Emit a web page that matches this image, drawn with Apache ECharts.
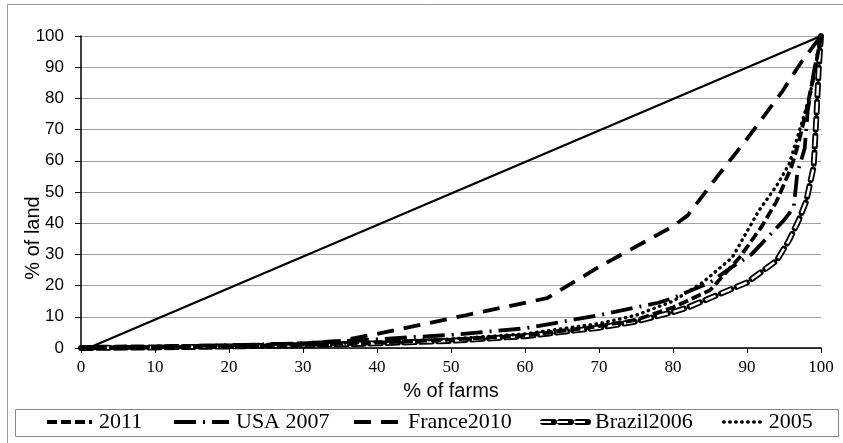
<!DOCTYPE html>
<html><head><meta charset="utf-8">
<script src="https://cdn.jsdelivr.net/npm/echarts@6/dist/echarts.min.js"></script>
<style>html,body{margin:0;padding:0;background:#fff}#c{width:843px;height:443px}</style>
</head><body><div id="c"></div>
<script>
// % of farms (x) and % of land (y) per series
const equalityX = [1, 100];
const equalityY = [0, 100];

const s2011X = [0,10,20,30,40,50,60,70,75,80,85,89,92,94,96,97,98,99,100];
const s2011Y = [0,0.2,0.5,1,1.7,2.7,4,7,9,13,18.5,29,39,47,58,66,76,87,100];

const usaX = [0,10,20,30,40,50,60,70,78,80,85,88,90.6,93.4,95,96.3,96.8,97.8,98.2,99,100];
const usaY = [0,0.4,0.9,1.5,2.8,4.2,6.3,10.5,14.5,16,21,26,30,37,41,45,56,64,76,88,100];

const franceX = [0,10,20,30,35,40,45,52,63,70,80,82,86,90,94.7,97.3,100];
const franceY = [0,0.3,0.8,1.5,2.3,4.5,7,10.5,16,26,39,42.5,55,67,82,91.5,100];

const brazilX = [0,10,20,30,40,50,60,63,70,75,80,82,85,90,94,95.7,97,98,99,99.4,99.7,100];
const brazilY = [0,0.2,0.5,0.9,1.5,2.3,3.8,4.6,6.5,8.5,11.5,13,16,21,28,34.6,41,47,58,75,90,100];

const s2005X = [0,10,20,30,40,50,60,70,75,80,84,88,91.6,94,95.7,97.4,98.4,99,100];
const s2005Y = [0,0.3,0.6,1.1,1.9,2.9,4.5,7.8,10.5,15,21,29,44,52,59,72,80,87,100];

const legendNames = ['2011', 'USA 2007', 'France2010', 'Brazil2006', '2005'];
const legendLeft = [45, 172, 352, 540, 722];
const legendIconW = [45, 55, 47, 45, 38];
const legendLineW = [4, 4, 4, 6, 3.4];

const pairs = (xs, ys) => xs.map((x, i) => [x, ys[i]]);

const chart = echarts.init(document.getElementById('c'), null, {renderer: 'canvas'});
const base = {type: 'line', symbol: 'none', showSymbol: false, animation: false, silent: true,
  itemStyle: {color: '#000'}};
const frameGraphics = [
  {type: 'rect', shape: {x: 7.5, y: 4.5, width: 860, height: 460}, style: {fill: 'none', stroke: '#999', lineWidth: 1}, z: -10},
  {type: 'rect', shape: {x: 15.5, y: 409.5, width: 823, height: 27}, style: {fill: 'none', stroke: '#888', lineWidth: 1}, z: -5}
];
chart.setOption({
  animation: false,
  color: ['#000'],
  backgroundColor: '#fff',
  grid: {left: 81, right: 22, top: 36, bottom: 95, containLabel: false, outerBoundsMode: 'none'},
  xAxis: {
    type: 'value', min: 0, max: 100, interval: 10,
    name: '% of farms', nameLocation: 'middle', nameGap: 33, nameMoveOverlap: false,
    nameTextStyle: {fontFamily: 'Liberation Sans', fontSize: 20, color: '#000'},
    axisLine: {lineStyle: {color: '#000', width: 1.5}},
    axisTick: {show: true, length: 5, lineStyle: {color: '#000'}},
    axisLabel: {fontFamily: 'Liberation Serif', fontSize: 17, color: '#000', margin: 11},
    splitLine: {show: false}
  },
  yAxis: {
    type: 'value', min: 0, max: 100, interval: 10,
    name: '% of land', nameLocation: 'middle', nameGap: 38, nameMoveOverlap: false,
    nameTextStyle: {fontFamily: 'Liberation Sans', fontSize: 20, color: '#000', padding: [0, 0, 0, -92]},
    axisLine: {show: true, lineStyle: {color: '#000', width: 1.5}},
    axisTick: {show: true, length: 6, lineStyle: {color: '#000'}},
    axisLabel: {fontFamily: 'Liberation Sans', fontSize: 17, color: '#000', margin: 17},
    splitLine: {show: true, lineStyle: {color: '#a0a0a0', width: 1}}
  },
  legend: legendNames.map((n, i) => ({
    data: [n],
    left: legendLeft[i], top: 411,
    itemWidth: legendIconW[i], itemHeight: 14, itemGap: 0, padding: 0,
    itemStyle: {opacity: 0},
    lineStyle: {width: legendLineW[i]},
    textStyle: {fontFamily: 'Liberation Serif', fontSize: 22, color: '#000', padding: [0, 0, 0, 2]},
    selectedMode: false
  })),
  graphic: frameGraphics,
  series: [
    Object.assign({}, base, {name: 'equality', data: pairs(equalityX, equalityY), lineStyle: {color: '#000', width: 2.2, type: 'solid'}}),
    Object.assign({}, base, {name: 'France2010', data: pairs(franceX, franceY), lineStyle: {color: '#000', width: 3.8, type: [17, 10], cap: 'butt'}}),
    Object.assign({}, base, {name: 'Brazil2006', data: pairs(brazilX, brazilY), lineStyle: {color: '#000', width: 6, type: [11, 6], cap: 'round'}}),
    Object.assign({}, base, {name: 'Brazil2006 inner', data: pairs(brazilX, brazilY), lineStyle: {color: '#fff', width: 2.4, type: [11, 6], cap: 'butt'}}),
    Object.assign({}, base, {name: 'USA 2007', data: pairs(usaX, usaY), lineStyle: {color: '#000', width: 3.8, type: [22, 7, 2, 7], cap: 'butt'}}),
    Object.assign({}, base, {name: '2011', data: pairs(s2011X, s2011Y), lineStyle: {color: '#000', width: 3.8, type: [10, 4], cap: 'butt'}}),
    Object.assign({}, base, {name: '2005', data: pairs(s2005X, s2005Y), lineStyle: {color: '#000', width: 3.4, type: [0.5, 5.5], cap: 'round'}})
  ]
});

// hollow look for the Brazil2006 legend icon
chart.setOption({graphic: frameGraphics.concat([
  {type: 'polyline', shape: {points: [[legendLeft[3], 422], [legendLeft[3] + legendIconW[3], 422]]},
   style: {stroke: '#fff', lineWidth: 2.2, lineDash: [11, 6], fill: null}, z: 100, silent: true}
])}, {replaceMerge: ['graphic']});
</script></body></html>
